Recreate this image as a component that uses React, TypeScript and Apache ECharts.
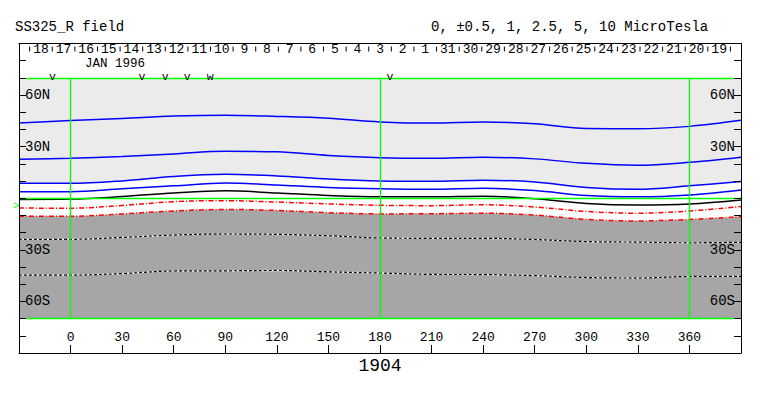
import React, { useEffect, useRef } from 'react';
import * as echarts from 'echarts';

// ---- data ----
const longitudes = [-30, 0, 30, 60, 90, 120, 150, 180, 210, 240, 270, 300, 330, 360, 390];
// contour latitudes (deg) at each longitude
const contour10 = [43.7, 45.2, 46.4, 47.8, 48.3, 47.6, 46.5, 44.4, 43.7, 44.4, 43.3, 40.5, 40.4, 41.8, 45.3];
const contour5 = [22.7, 23.3, 24.3, 25.8, 27.3, 27.0, 24.9, 23.6, 23.3, 23.9, 22.9, 20.3, 19.2, 20.9, 23.9];
const contour2p5 = [8.7, 8.7, 10.1, 12.7, 13.9, 13.0, 11.2, 10.1, 9.9, 10.5, 9.5, 6.3, 5.2, 7.2, 9.7];
const contour1 = [3.8, 3.8, 5.5, 7.2, 8.9, 7.7, 6.3, 5.5, 5.2, 5.8, 4.5, 1.6, 0.8, 1.9, 4.8];
const contour0p5 = [-0.7, -0.5, 1.0, 3.1, 4.3, 3.1, 1.6, 0.8, 0.8, 1.2, -0.3, -3.0, -3.9, -3.3, -1.0];
const contourM0p5 = [-5.7, -5.8, -4.2, -2.0, -1.4, -2.2, -3.3, -4.1, -4.3, -3.8, -5.1, -7.7, -8.7, -7.4, -4.8];
const contourM1 = [-10.4, -10.5, -9.1, -7.4, -6.5, -7.1, -8.4, -9.1, -9.0, -8.7, -9.8, -12.3, -13.2, -12.3, -10.7];
const contourM2p5 = [-23.9, -23.9, -22.8, -21.4, -20.8, -21.0, -21.8, -23.1, -23.3, -23.3, -24.0, -25.2, -25.5, -25.9, -25.6];
const contourM5 = [-44.7, -44.7, -43.8, -42.3, -42.2, -42.0, -42.8, -43.5, -44.3, -44.4, -45.0, -46.1, -46.4, -45.5, -45.4];

const latTickLabels: Record<string, string> = { '60': '60N', '30': '30N', '-30': '30S', '-60': '60S' };

const dayLabels = ['18', '17', '16', '15', '14', '13', '12', '11', '10', '9', '8', '7', '6', '5', '4', '3',
  '2', '1', '31', '30', '29', '28', '27', '26', '25', '24', '23', '22', '21', '20', '19'];
const dayFirstBoundaryLon = -23.8;
const dayWidthLon = 13.15;

const passMarkers = ['v', 'v', 'v', 'v', 'w', 'v'];
const passMarkerLons = [-10.6, 41.5, 55.0, 67.8, 81.2, 185.8];

const sunLat = -4.7;
const meridians = [0, 180, 360];
const parallels = [70, 0, -70];

const MONO = '"Liberation Mono", "DejaVu Sans Mono", monospace';

function pts(vals: number[]) {
  return longitudes.map((x, i) => [x, vals[i]]);
}

export default function App() {
  const ref = useRef<HTMLDivElement>(null);

  useEffect(() => {
    if (!ref.current) return;
    const chart = echarts.init(ref.current, null, { renderer: 'svg' });

    const SM = 0.35;
    const contourLine = (data: number[], color: string, width: number, type: any, z: number) => ({
      type: 'line',
      data: pts(data),
      symbol: 'none',
      smooth: SM,
      silent: true,
      lineStyle: { color, width, type },
      z,
    });

    const dayData = dayLabels.map((_, i) => [dayFirstBoundaryLon + (i + 0.5) * dayWidthLon, 86.6]);
    const markerData = passMarkerLons.map((lon) => [lon, 70.9]);

    const option: any = {
      animation: false,
      backgroundColor: '#ffffff',
      grid: { left: 19, right: 22, top: 43.5, bottom: 43, containLabel: false },
      xAxis: [
        {
          type: 'value', position: 'bottom', min: -30, max: 390, interval: 30, z: 5,
          axisLine: { show: true, onZero: false, lineStyle: { color: '#000', width: 1 } },
          axisTick: { show: true, inside: true, length: 8, lineStyle: { color: '#000', width: 1 } },
          axisLabel: {
            show: true, inside: true, margin: 9, color: '#000', fontFamily: MONO, fontSize: 13,
            formatter: (v: number) => (v < 0 || v > 360 ? '' : String(v)),
          },
          splitLine: { show: false },
        },
        {
          type: 'value', position: 'top', min: -30, max: 390, interval: 30, z: 5,
          axisLine: { show: true, onZero: false, lineStyle: { color: '#000', width: 1 } },
          axisTick: { show: false }, axisLabel: { show: false }, splitLine: { show: false },
        },
      ],
      yAxis: [
        {
          type: 'value', position: 'left', min: -90, max: 90, interval: 10, z: 5,
          axisLine: { show: true, onZero: false, lineStyle: { color: '#000', width: 1 } },
          axisTick: { show: true, inside: true, length: 7, lineStyle: { color: '#000', width: 1 } },
          axisLabel: {
            show: true, inside: true, margin: 6, color: '#000', fontFamily: MONO, fontSize: 14,
            formatter: (v: number) => latTickLabels[String(v)] || '',
          },
          splitLine: { show: false },
        },
        {
          type: 'value', position: 'right', min: -90, max: 90, interval: 10, z: 5,
          axisLine: { show: true, onZero: false, lineStyle: { color: '#000', width: 1 } },
          axisTick: { show: true, inside: true, length: 7, lineStyle: { color: '#000', width: 1 } },
          axisLabel: {
            show: true, inside: true, margin: 6, color: '#000', fontFamily: MONO, fontSize: 14,
            formatter: (v: number) => latTickLabels[String(v)] || '',
          },
          splitLine: { show: false },
        },
      ],
      graphic: [
        { type: 'text', x: 15, y: 27, style: { text: 'SS325_R field', font: `14px ${MONO}`, fill: '#000', align: 'left', verticalAlign: 'middle' } },
        { type: 'text', x: 431, y: 27, style: { text: '0, ±0.5, 1, 2.5, 5, 10 MicroTesla', font: `14px ${MONO}`, fill: '#000', align: 'left', verticalAlign: 'middle' } },
        { type: 'text', x: 85, y: 64, z: 10, style: { text: 'JAN 1996', font: `12.5px ${MONO}`, lineHeight: 11, fill: '#000', align: 'left', verticalAlign: 'middle' } },
        { type: 'text', x: 380, y: 366, style: { text: '1904', font: `18px ${MONO}`, fill: '#000', align: 'center', verticalAlign: 'middle' } },
      ],
      series: [
        // fills
        {
          type: 'line', data: pts(contour2p5), symbol: 'none', smooth: SM, silent: true,
          lineStyle: { width: 0, opacity: 0 }, areaStyle: { color: '#ebebeb', opacity: 1, origin: 70 }, z: 1,
        },
        {
          type: 'line', data: pts(contourM1), symbol: 'none', smooth: SM, silent: true,
          lineStyle: { width: 0, opacity: 0 }, areaStyle: { color: '#a6a6a6', opacity: 1, origin: -70 }, z: 1,
        },
        // contour lines
        contourLine(contour10, '#0000ff', 1.5, 'solid', 2),
        contourLine(contour5, '#0000ff', 1.5, 'solid', 2),
        contourLine(contour2p5, '#0000ff', 1.5, 'solid', 2),
        contourLine(contour1, '#0000ff', 1.5, 'solid', 2),
        contourLine(contour0p5, '#000000', 1.5, 'solid', 2),
        contourLine(contourM0p5, '#ff0000', 1.5, [5, 2, 1, 2], 2),
        contourLine(contourM1, '#ff0000', 1.5, [5, 2, 1, 2], 2),
        contourLine(contourM2p5, '#ffffff', 1.2, 'solid', 2),
        contourLine(contourM2p5, '#000000', 1.2, [3, 2], 3),
        contourLine(contourM5, '#ffffff', 1.2, 'solid', 2),
        contourLine(contourM5, '#000000', 1.2, [3, 2], 3),
        // green reference lines
        {
          type: 'line', data: [], silent: true, z: 4,
          markLine: {
            silent: true, symbol: ['none', 'none'], label: { show: false }, animation: false,
            lineStyle: { color: '#00ff00', width: 1.3, type: 'solid' },
            data: [
              ...meridians.map((m) => [{ coord: [m, -70] }, { coord: [m, 70] }]),
              ...parallels.map((p) => [{ coord: [p === 0 ? -30 : -25.8, p] }, { coord: [p === 0 ? 390 : 386.2, p] }]),
            ],
          },
        },
        // day-of-month row
        {
          type: 'custom', data: dayData, clip: false, silent: true, z: 6,
          renderItem: (params: any, api: any) => {
            const i = params.dataIndex;
            const lon = api.value(0);
            const p = api.coord([lon, api.value(1)]);
            const left = api.coord([lon - dayWidthLon / 2, 90]);
            const right = api.coord([lon + dayWidthLon / 2, 90]);
            const children: any[] = [
              { type: 'text', x: p[0], y: p[1], style: { text: dayLabels[i], font: `13px ${MONO}`, lineHeight: 12, fill: '#000', align: 'center', verticalAlign: 'middle' } },
              { type: 'line', shape: { x1: left[0], y1: left[1] + 3, x2: left[0], y2: left[1] + 8 }, style: { stroke: '#000', lineWidth: 1 } },
            ];
            if (i === dayLabels.length - 1) {
              children.push({ type: 'line', shape: { x1: right[0], y1: right[1] + 3, x2: right[0], y2: right[1] + 8 }, style: { stroke: '#000', lineWidth: 1 } });
            }
            return { type: 'group', children };
          },
        },
        // pass markers
        {
          type: 'custom', data: markerData, clip: false, silent: true, z: 6,
          renderItem: (params: any, api: any) => {
            const p = api.coord([api.value(0), api.value(1)]);
            return { type: 'text', x: p[0], y: p[1], style: { text: passMarkers[params.dataIndex], font: `11.5px ${MONO}`, lineHeight: 8, fill: '#000', align: 'center', verticalAlign: 'middle' } };
          },
        },
        // sub-solar latitude marker
        {
          type: 'custom', data: [[-30, sunLat]], clip: false, silent: true, z: 6,
          renderItem: (params: any, api: any) => {
            const p = api.coord([api.value(0), api.value(1)]);
            return { type: 'text', x: p[0] + 0.5, y: p[1], style: { text: '>', font: `11px ${MONO}`, fill: '#00ff00', align: 'right', verticalAlign: 'middle' } };
          },
        },
      ],
    };

    chart.setOption(option);
    return () => chart.dispose();
  }, []);

  return (
    <div
      ref={ref}
      style={{ position: 'absolute', left: 0, top: 0, width: 763, height: 396, background: '#fff' }}
    />
  );
}
